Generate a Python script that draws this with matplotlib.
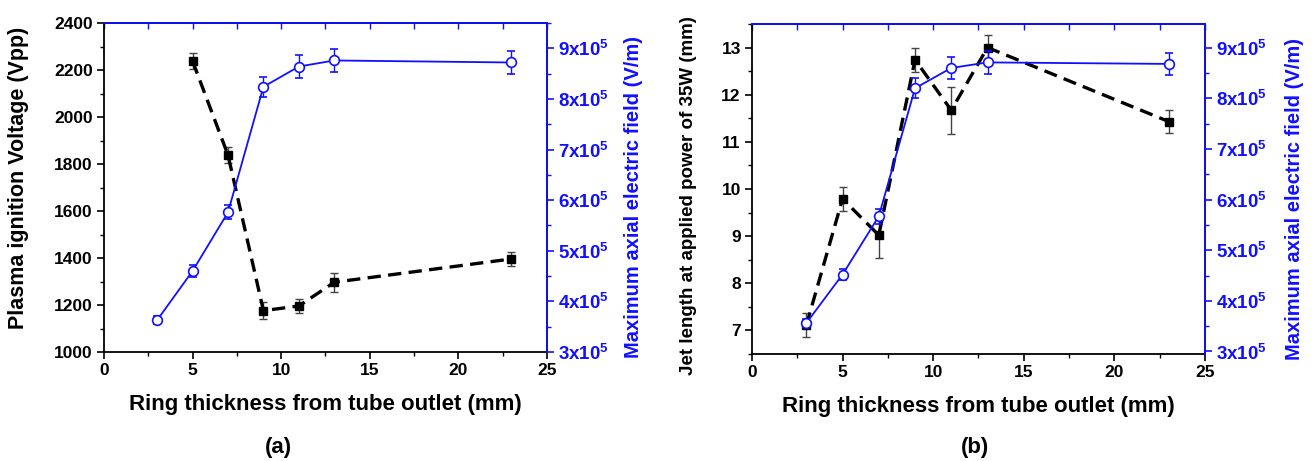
import matplotlib
matplotlib.use('Agg')
import matplotlib.pyplot as plt
from matplotlib.ticker import MultipleLocator, FuncFormatter

plt.rcParams['font.family'] = ['Liberation Sans', 'DejaVu Sans']
plt.rcParams['font.weight'] = 'bold'
plt.rcParams['mathtext.fontset'] = 'custom'
plt.rcParams['mathtext.bf'] = 'Liberation Sans:bold'
plt.rcParams['mathtext.rm'] = 'Liberation Sans:bold'
plt.rcParams['mathtext.default'] = 'bf'

# panel (a): ignition voltage vs ring thickness
volt_x = [5, 7, 9, 11, 13, 23]
volt_y = [2238, 1838, 1176, 1196, 1297, 1396]
volt_err = [34, 33, 35, 30, 40, 31]

field_x = [3, 5, 7, 9, 11, 13, 23]
field_a = [3.63e5, 4.60e5, 5.76e5, 8.24e5, 8.64e5, 8.76e5, 8.72e5]
field_a_err = [0.075e5, 0.115e5, 0.14e5, 0.2e5, 0.22e5, 0.22e5, 0.22e5]

# panel (b): jet length vs ring thickness
jet_x = [3, 5, 7, 9, 11, 13, 23]
jet_y = [7.11, 9.79, 9.02, 12.74, 11.67, 13.0, 11.43]
jet_err = [0.25, 0.25, 0.48, 0.26, 0.5, 0.26, 0.25]

field_b = [3.56e5, 4.52e5, 5.67e5, 8.20e5, 8.60e5, 8.71e5, 8.68e5]
field_b_err = [0.08e5, 0.11e5, 0.15e5, 0.2e5, 0.22e5, 0.23e5, 0.22e5]

BLUE = '#1010ff'
xlabel = 'Ring thickness from tube outlet (mm)'
rlabel = 'Maximum axial electric field (V/m)'


def sci_fmt(v, pos):
    return '%dx10$^{5}$' % round(v / 1e5)


def draw_panel(ax, bx, by, berr, ylim, ymaj, ymin_, ylabel, ylsize, fy, fyerr,
               rlim, lpos, rpos, xl_y):
    ax.errorbar(bx, by, yerr=berr, color='black', ls=(0, (4, 2.2)), lw=2.4,
                marker='s', ms=6, ecolor='#444444', elinewidth=1, capsize=3,
                capthick=1)
    ax.set_xlim(0, 25)
    ax.set_ylim(*ylim)
    ax.xaxis.set_major_locator(MultipleLocator(5))
    ax.xaxis.set_minor_locator(MultipleLocator(2.5))
    ax.yaxis.set_major_locator(MultipleLocator(ymaj))
    ax.yaxis.set_minor_locator(MultipleLocator(ymin_))
    ax.tick_params(axis='both', which='major', direction='out', length=5,
                   width=1.2, labelsize=12.5, pad=3)
    ax.tick_params(axis='both', which='minor', direction='out', length=3,
                   width=1)
    ax.set_xlabel(xlabel, fontsize=16, fontweight='bold')
    ax.set_ylabel(ylabel, fontsize=ylsize, fontweight='bold')
    ax.xaxis.set_label_coords(0.5, xl_y)
    ax.xaxis.label.set_va('center')
    ax.yaxis.set_label_coords(*lpos)
    ax.yaxis.label.set_va('center')
    for s in ax.spines.values():
        s.set_linewidth(1.3)

    ax2 = ax.twinx()
    ax2.errorbar(fy[0], fy[1], yerr=fyerr, color=BLUE, lw=1.3, marker='o',
                 ms=7, mfc='white', mec=BLUE, mew=1.2, ecolor=BLUE,
                 elinewidth=1, capsize=3, capthick=1)
    ax2.set_ylim(*rlim)
    ax2.yaxis.set_major_locator(MultipleLocator(1e5))
    ax2.yaxis.set_minor_locator(MultipleLocator(0.5e5))
    ax2.yaxis.set_major_formatter(FuncFormatter(sci_fmt))
    ax2.tick_params(axis='y', which='major', direction='out', length=5,
                    width=1.2, colors=BLUE, labelsize=13.5, pad=3)
    ax2.tick_params(axis='y', which='minor', direction='out', length=3,
                    width=1, colors=BLUE)
    ax2.set_ylabel(rlabel, fontsize=14.5, fontweight='bold', color=BLUE)
    ax2.yaxis.set_label_coords(*rpos)
    ax2.yaxis.label.set_va('center')
    for name, s in ax2.spines.items():
        s.set_linewidth(1.3)
    ax2.spines['right'].set_color(BLUE)
    ax2.spines['top'].set_color(BLUE)
    ax2.spines['left'].set_visible(False)
    ax2.spines['bottom'].set_visible(False)
    # inward ticks on the top spine
    sec = ax.secondary_xaxis('top')
    sec.xaxis.set_major_locator(MultipleLocator(2.5))
    sec.tick_params(axis='x', direction='in', length=4, width=1,
                    colors=BLUE, labeltop=False)
    sec.spines['top'].set_visible(False)
    return ax2


fig = plt.figure(figsize=(13.16, 4.61), dpi=100)
ax_a = fig.add_axes([0.079, 0.2364, 0.3366, 0.7137])
ax_b = fig.add_axes([0.5714, 0.2321, 0.3442, 0.716])

draw_panel(ax_a, volt_x, volt_y, volt_err, (1000, 2400), 200, 100,
           'Plasma ignition Voltage (Vpp)', 15.5, (field_x, field_a),
           field_a_err, (3e5, 9.5e5), (-0.192, 0.53), (1.196, 0.47), -0.161)
draw_panel(ax_b, jet_x, jet_y, jet_err, (6.5, 13.5), 1, 0.5,
           'Jet length at applied power of 35W (mm)', 13.5, (field_x, field_b),
           field_b_err, (2.95e5, 9.47e5), (-0.14, 0.48), (1.198, 0.47), -0.16)

fig.text(278 / 1316, 1 - 447 / 461, '(a)', fontsize=16, fontweight='bold',
         ha='center', va='center')
fig.text(975 / 1316, 1 - 447 / 461, '(b)', fontsize=16, fontweight='bold',
         ha='center', va='center')

fig.savefig('out.png', dpi=100)
